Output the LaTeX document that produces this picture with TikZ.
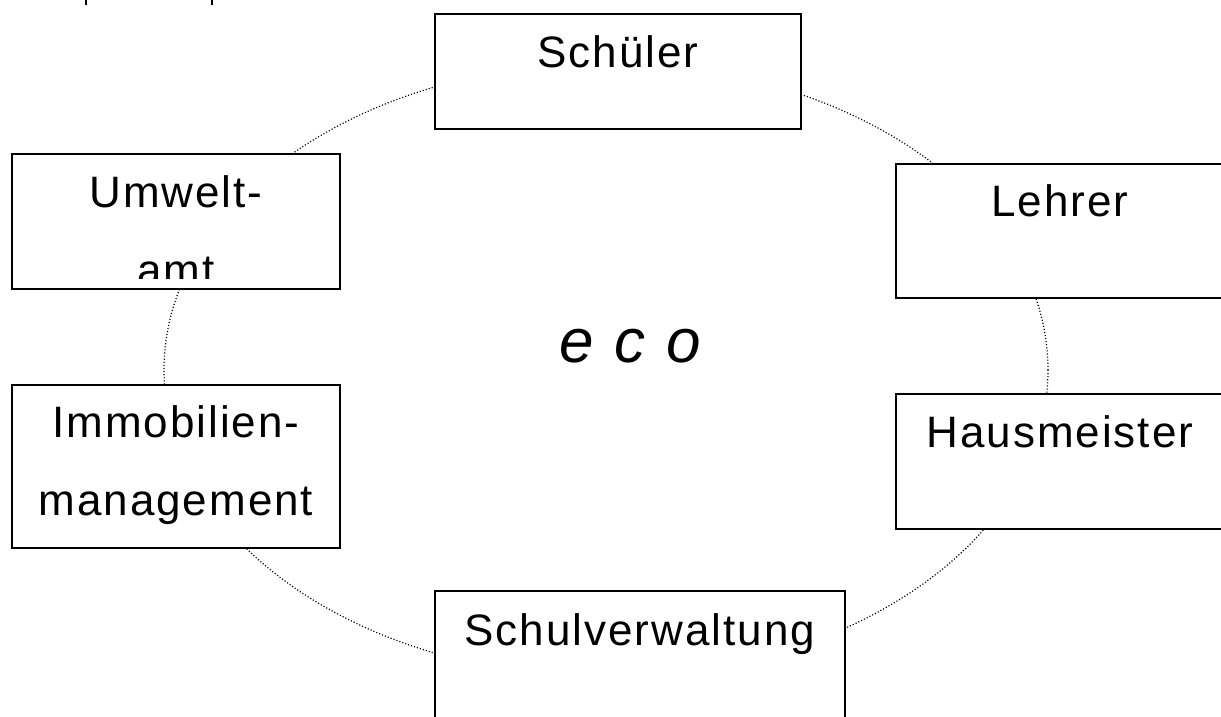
\documentclass[tikz,border=0pt]{standalone}
\usepackage{fontspec}
\setmainfont{Liberation Sans}
\newfontfamily\boxfont[LetterSpace=4.5]{Liberation Sans}
\newfontfamily\ecofont[LetterSpace=6]{Liberation Sans}
\begin{document}
\begin{tikzpicture}[x=1pt,y=-1pt,
  box/.style={draw=black, line width=1.8pt, fill=white, rectangle, inner sep=0pt, anchor=north west},
  lbl/.style={font=\boxfont\fontsize{44}{78}\selectfont, anchor=base, inner sep=0pt, align=center},
  ring/.style={line width=1.2pt, dash pattern=on 1.1pt off 2pt},
  tick/.style={line width=2pt}]
\useasboundingbox (0,0) rectangle (1221,716);
\coordinate (mid) at (606,370);
\draw[ring] (mid) ellipse [x radius=442pt, y radius=307pt];

\node[box, minimum width=366pt, minimum height=115pt] (schueler) at (434,13) {};
\node[box, minimum width=328pt, minimum height=134pt] (lehrer) at (895,163) {};
\node[box, minimum width=328pt, minimum height=135pt] (haus) at (895,393) {};
\node[box, minimum width=410pt, minimum height=140pt] (verw) at (434,590) {};
\node[box, minimum width=328pt, minimum height=163pt] (immo) at (11,384) {};
\node[box, minimum width=328pt, minimum height=135pt] (umwelt) at (11,153) {};

\node[lbl] (tschueler) at ([yshift=-54pt]schueler.north) {Schüler};
\node[lbl] (tlehrer) at ([yshift=-53pt]lehrer.north) {Lehrer};
\node[lbl] (thaus) at ([yshift=-54pt]haus.north) {Hausmeister};
\node[lbl] (tverw) at ([yshift=-55pt]verw.north) {Schulverwaltung};
\node[lbl] (timmo) at ([yshift=-131pt]immo.north) {Immobilien-\\management};
\begin{scope}
  \clip (umwelt.north west) rectangle ([yshift=11pt]umwelt.south east);
  \node[lbl] (tumwelt) at ([yshift=-132pt]umwelt.north) {Umwelt-\\amt};
\end{scope}

\node[font=\ecofont\itshape\fontsize{62}{70}\selectfont, anchor=base, inner sep=0pt] (eco) at (630,362) {e c o};

\coordinate (t1a) at (86,0); \coordinate (t1b) at (86,5);
\coordinate (t2a) at (212,0); \coordinate (t2b) at (212,5);
\draw[tick] (t1a) -- (t1b);
\draw[tick] (t2a) -- (t2b);
\end{tikzpicture}
\end{document}
